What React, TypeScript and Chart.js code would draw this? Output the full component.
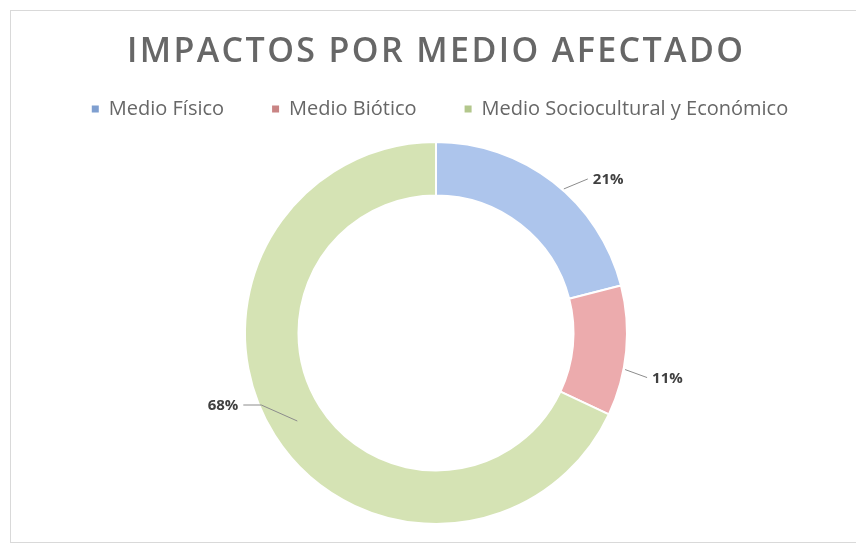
import React, { useEffect, useRef } from "react";
import { Chart, registerables } from "chart.js";

Chart.register(...registerables);

const TITLE = "IMPACTOS POR MEDIO AFECTADO";
const CATEGORIES = ["Medio Físico", "Medio Biótico", "Medio Sociocultural y Económico"];
const VALUES = [21, 11, 68];
const COLORS = ["#adc5ec", "#ecabad", "#d5e3b4"];
const LEGEND_COLORS = ["#7f9fd0", "#c98484", "#b3c78c"];

// leader-line style per slice: fraction along arc, ring position (0 inner..1 outer+), elbow offset, tail length, text side
const LABEL_STYLE = [
  { frac: 0.55, ring: 1.03, elbow: [24, -10], tail: 0, side: 1 },
  { frac: 0.64, ring: 1.03, elbow: [22, 8], tail: 0, side: 1 },
  { frac: 0.5, ring: 0.5, elbow: [-36, -16], tail: 18, side: -1 },
];

const overlayPlugin = {
  id: "overlay",
  afterDraw(chart: any) {
    const ctx = chart.ctx as CanvasRenderingContext2D;
    // Title
    ctx.save();
    ctx.fillStyle = "#676767";
    ctx.font = "600 34px 'Open Sans'";
    ctx.textBaseline = "alphabetic";
    const w0 = ctx.measureText(TITLE).width;
    const spacing = Math.max(0, (616 - w0) / (TITLE.length - 1));
    (ctx as any).letterSpacing = spacing + "px";
    const tw = ctx.measureText(TITLE).width - spacing;
    ctx.textAlign = "left";
    ctx.fillText(TITLE, 435 - tw / 2, 62);
    (ctx as any).letterSpacing = "0px";
    ctx.restore();

    // Legend
    ctx.save();
    ctx.font = "20px 'Open Sans'";
    ctx.textBaseline = "middle";
    const box = 7, boxGap = 10, itemGap = 48;
    const widths = CATEGORIES.map((c) => ctx.measureText(c).width);
    const total = widths.reduce((a, b) => a + box + boxGap + b, 0) + itemGap * (CATEGORIES.length - 1);
    let x = 440 - total / 2;
    const y = 109;
    CATEGORIES.forEach((c, i) => {
      ctx.fillStyle = LEGEND_COLORS[i];
      ctx.fillRect(x, y - box / 2, box, box);
      x += box + boxGap;
      ctx.fillStyle = "#676767";
      ctx.textAlign = "left";
      ctx.fillText(c, x, y);
      x += widths[i] + itemGap;
    });
    ctx.restore();

    // Data labels with leader lines
    const meta = chart.getDatasetMeta(0);
    const total2 = VALUES.reduce((a, b) => a + b, 0);
    ctx.save();
    ctx.strokeStyle = "#8c8c8c";
    ctx.lineWidth = 1;
    ctx.fillStyle = "#404040";
    ctx.font = "bold 15px 'Open Sans'";
    ctx.textBaseline = "middle";
    meta.data.forEach((arc: any, i: number) => {
      const p = arc.getProps(["x", "y", "startAngle", "endAngle", "innerRadius", "outerRadius"], true);
      const st = LABEL_STYLE[i];
      const a = p.startAngle + (p.endAngle - p.startAngle) * st.frac;
      const r = p.innerRadius + (p.outerRadius - p.innerRadius) * st.ring;
      const ax = p.x + Math.cos(a) * r;
      const ay = p.y + Math.sin(a) * r;
      const ex = ax + st.elbow[0];
      const ey = ay + st.elbow[1];
      const tx = ex + st.side * st.tail;
      ctx.beginPath();
      ctx.moveTo(ax, ay);
      ctx.lineTo(ex, ey);
      ctx.lineTo(tx, ey);
      ctx.stroke();
      const pct = Math.round((VALUES[i] / total2) * 100) + "%";
      ctx.textAlign = st.side > 0 ? "left" : "right";
      ctx.fillText(pct, tx + st.side * 5, ey + 1);
    });
    ctx.restore();
  },
};

export default function App() {
  const ref = useRef<HTMLCanvasElement>(null);
  useEffect(() => {
    if (!ref.current) return;
    const chart = new Chart(ref.current, {
      type: "doughnut",
      data: {
        labels: CATEGORIES,
        datasets: [
          {
            data: VALUES,
            backgroundColor: COLORS,
            borderColor: "#ffffff",
            borderWidth: 2,
          },
        ],
      },
      options: {
        animation: false,
        responsive: false,
        cutout: "72%",
        layout: { padding: { top: 141, bottom: 19, left: 16, right: 0 } },
        plugins: {
          legend: { display: false },
          title: { display: false },
          tooltip: { enabled: false },
        },
      },
      plugins: [overlayPlugin],
    });
    return () => chart.destroy();
  }, []);
  return (
    <div style={{ position: "fixed", left: 0, top: 0, width: 856, height: 544, background: "#fff" }}>
      <div
        style={{
          position: "absolute",
          left: 10,
          top: 10,
          width: 850,
          height: 531,
          border: "1px solid #d9d9d9",
        }}
      />
      <canvas ref={ref} width={856} height={544} style={{ position: "absolute", left: 0, top: 0 }} />
    </div>
  );
}
